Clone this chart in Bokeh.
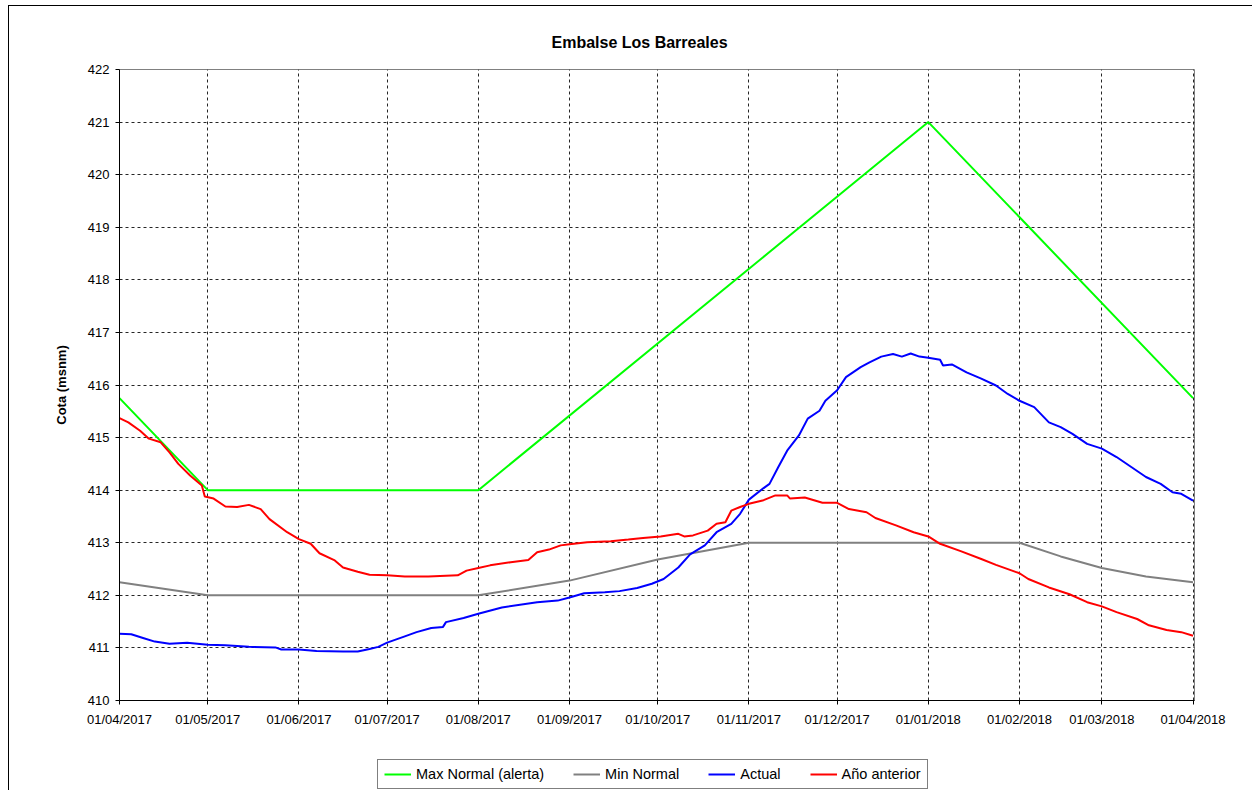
import pandas as pd
from bokeh.plotting import figure
from bokeh.layouts import column
from bokeh.models import (ColumnDataSource, Range1d, MonthsTicker, DatetimeTickFormatter,
                          SingleIntervalTicker, Legend, LegendItem)
from bokeh.embed import file_html
from bokeh.resources import INLINE

# ---------------- data ----------------
max_dates = ["2017-04-01", "2017-05-01", "2017-08-01", "2018-01-01", "2018-04-01"]
max_vals = [415.75, 414.0, 414.0, 421.0, 415.75]

min_dates = ["2017-04-01", "2017-05-01", "2017-08-01", "2017-09-01", "2017-10-01",
             "2017-11-01", "2018-02-01", "2018-02-15", "2018-03-01", "2018-03-16",
             "2018-04-01"]
min_vals = [412.25, 412.0, 412.0, 412.28, 412.68, 413.0, 413.0, 412.74, 412.52,
            412.36, 412.25]

act_dates = ["2017-04-01", "2017-04-05", "2017-04-09", "2017-04-13", "2017-04-18",
             "2017-04-24", "2017-05-01", "2017-05-07", "2017-05-15", "2017-05-24",
             "2017-05-26", "2017-06-01", "2017-06-07", "2017-06-16", "2017-06-21",
             "2017-06-25", "2017-06-28", "2017-07-01", "2017-07-07", "2017-07-11",
             "2017-07-16", "2017-07-20", "2017-07-21", "2017-07-27", "2017-08-01",
             "2017-08-09", "2017-08-21", "2017-08-28", "2017-09-01", "2017-09-06",
             "2017-09-13", "2017-09-18", "2017-09-24", "2017-09-29", "2017-10-03",
             "2017-10-08", "2017-10-12", "2017-10-17", "2017-10-21", "2017-10-26",
             "2017-10-29", "2017-11-01", "2017-11-06", "2017-11-08", "2017-11-11",
             "2017-11-14", "2017-11-18", "2017-11-21", "2017-11-25", "2017-11-27",
             "2017-12-01", "2017-12-04", "2017-12-09", "2017-12-12", "2017-12-16",
             "2017-12-20", "2017-12-23", "2017-12-26", "2017-12-29", "2018-01-01",
             "2018-01-05", "2018-01-06", "2018-01-09", "2018-01-14", "2018-01-19",
             "2018-01-24", "2018-01-28", "2018-02-01", "2018-02-06", "2018-02-11",
             "2018-02-15", "2018-02-19", "2018-02-24", "2018-03-01", "2018-03-06",
             "2018-03-11", "2018-03-16", "2018-03-21", "2018-03-25", "2018-03-28",
             "2018-04-01"]
act_vals = [411.27, 411.26, 411.19, 411.12, 411.08, 411.10, 411.06, 411.05, 411.02,
            411.01, 410.97, 410.97, 410.94, 410.93, 410.93, 410.98, 411.02, 411.10,
            411.22, 411.30, 411.38, 411.40, 411.49, 411.57, 411.65, 411.77, 411.87,
            411.90, 411.96, 412.04, 412.06, 412.08, 412.14, 412.22, 412.31, 412.53,
            412.78, 412.95, 413.20, 413.36, 413.55, 413.82, 414.04, 414.12, 414.44,
            414.75, 415.04, 415.36, 415.51, 415.70, 415.90, 416.15, 416.34, 416.43,
            416.54, 416.59, 416.54, 416.60, 416.54, 416.52, 416.48, 416.37, 416.39,
            416.24, 416.12, 415.99, 415.83, 415.70, 415.58, 415.29, 415.20, 415.07,
            414.88, 414.79, 414.63, 414.44, 414.25, 414.12, 413.96, 413.93, 413.80]

prev_dates = ["2017-04-01", "2017-04-04", "2017-04-08", "2017-04-11", "2017-04-15",
              "2017-04-18", "2017-04-21", "2017-04-25", "2017-04-29", "2017-04-30",
              "2017-05-03", "2017-05-07", "2017-05-11", "2017-05-15", "2017-05-19",
              "2017-05-22", "2017-05-28", "2017-06-01", "2017-06-05", "2017-06-08",
              "2017-06-13", "2017-06-16", "2017-06-21", "2017-06-25", "2017-07-01",
              "2017-07-07", "2017-07-15", "2017-07-25", "2017-07-28", "2017-08-01",
              "2017-08-05", "2017-08-12", "2017-08-18", "2017-08-21", "2017-08-25",
              "2017-08-29", "2017-09-01", "2017-09-07", "2017-09-15", "2017-09-21",
              "2017-09-26", "2017-10-02", "2017-10-08", "2017-10-10", "2017-10-13",
              "2017-10-18", "2017-10-21", "2017-10-24", "2017-10-26", "2017-10-29",
              "2017-11-01", "2017-11-06", "2017-11-10", "2017-11-14", "2017-11-15",
              "2017-11-20", "2017-11-26", "2017-12-01", "2017-12-05", "2017-12-11",
              "2017-12-14", "2017-12-21", "2017-12-27", "2018-01-01", "2018-01-05",
              "2018-01-12", "2018-01-19", "2018-01-24", "2018-02-01", "2018-02-04",
              "2018-02-11", "2018-02-18", "2018-02-24", "2018-03-01", "2018-03-06",
              "2018-03-13", "2018-03-17", "2018-03-23", "2018-03-28", "2018-04-01"]
prev_vals = [415.37, 415.29, 415.13, 414.98, 414.91, 414.72, 414.50, 414.28, 414.09,
             413.88, 413.84, 413.69, 413.68, 413.72, 413.64, 413.45, 413.20, 413.07,
             412.98, 412.80, 412.67, 412.53, 412.45, 412.39, 412.38, 412.36, 412.36,
             412.38, 412.47, 412.52, 412.57, 412.63, 412.67, 412.82, 412.87, 412.95,
             412.97, 413.01, 413.03, 413.06, 413.09, 413.12, 413.17, 413.12, 413.14,
             413.23, 413.36, 413.39, 413.61, 413.68, 413.74, 413.81, 413.90, 413.90,
             413.84, 413.86, 413.76, 413.76, 413.64, 413.58, 413.47, 413.33, 413.20,
             413.12, 412.98, 412.84, 412.69, 412.58, 412.42, 412.31, 412.15, 412.02,
             411.87, 411.79, 411.68, 411.55, 411.43, 411.34, 411.30, 411.23]

series_names = ["Max Normal (alerta)", "Min Normal", "Actual", "Año anterior"]
series_colors = ["#00FF00", "#808080", "#0000FF", "#FF0000"]
title_text = "Embalse Los Barreales"
y_label = "Cota (msnm)"
x_start, x_end = "2017-04-01", "2018-04-01 12:00"
y_start, y_end = 410, 422

FONT = "Liberation Sans"
W = 1243

all_x = [max_dates, min_dates, act_dates, prev_dates]
all_y = [max_vals, min_vals, act_vals, prev_vals]
sources = [ColumnDataSource(dict(x=pd.to_datetime(xs), y=ys)) for xs, ys in zip(all_x, all_y)]

# ---------------- main figure ----------------
xr = Range1d(pd.Timestamp(x_start), pd.Timestamp(x_end))
p = figure(width=W, height=749, x_axis_type="datetime",
           x_range=xr, y_range=Range1d(y_start, y_end),
           output_backend="svg", toolbar_location=None,
           min_border_left=110, min_border_right=58, min_border_top=63,
           min_border_bottom=55)

p.title.text = title_text
p.title.align = "left"
p.title.offset = 432
p.title.standoff = 37
p.title.text_font = FONT
p.title.text_font_size = "16px"
p.title.text_font_style = "bold"
p.title.text_color = "black"

p.outline_line_color = "#808080"
p.outline_line_width = 1

for src, c in zip(sources, series_colors):
    p.line("x", "y", source=src, line_color=c, line_width=2)

# axes
p.xaxis.ticker = MonthsTicker(months=list(range(12)))
fmt = "%d/%m/%Y"
p.xaxis.formatter = DatetimeTickFormatter(days=fmt, months=fmt, years=fmt,
                                          hours=fmt, minutes=fmt, seconds=fmt,
                                          milliseconds=fmt, microseconds=fmt)
p.yaxis.ticker = SingleIntervalTicker(interval=1)
for ax in (p.xaxis[0], p.yaxis[0]):
    ax.axis_line_color = "black"
    ax.axis_line_width = 1
    ax.major_tick_line_color = "black"
    ax.major_tick_in = 0
    ax.minor_tick_line_color = None
    ax.major_label_text_font = FONT
    ax.major_label_text_font_size = "13px"
    ax.major_label_text_color = "black"
p.xaxis.major_tick_out = 4
p.yaxis.major_tick_out = 4
p.xaxis.major_label_standoff = 7
p.yaxis.major_label_standoff = 6
p.yaxis.axis_label = y_label
p.yaxis.axis_label_text_font = FONT
p.yaxis.axis_label_text_font_size = "13px"
p.yaxis.axis_label_text_font_style = "bold"
p.yaxis.axis_label_text_color = "black"
p.yaxis.axis_label_standoff = 16

# grid
for g in (p.xgrid[0], p.ygrid[0]):
    g.grid_line_color = "black"
    g.grid_line_dash = "3 3"
    g.grid_line_width = 1
    g.grid_line_alpha = 0.85

# ---------------- legend strip ----------------
# same series drawn in a strip whose y range excludes them, only for the legend keys
lf = figure(width=W, height=35, x_axis_type="datetime", x_range=xr,
            y_range=Range1d(0, 1), output_backend="svg", toolbar_location=None,
            x_axis_location=None, y_axis_location=None, min_border=0)
lf.outline_line_color = None
lf.xgrid.visible = False
lf.ygrid.visible = False
items = []
for n, src, c in zip(series_names, sources, series_colors):
    r = lf.line("x", "y", source=src, line_color=c, line_width=2)
    items.append(LegendItem(label=n, renderers=[r]))
legend = Legend(items=items, orientation="horizontal", location=(258, 1))
legend.label_text_font = FONT
legend.label_text_font_size = "14.5px"
legend.label_text_color = "black"
legend.glyph_width = 27
legend.glyph_height = 14
legend.label_height = 14
legend.label_standoff = 5
legend.spacing = 29
legend.padding = 6
legend.margin = 0
legend.border_line_color = "black"
legend.border_line_width = 1
legend.background_fill_color = "white"
legend.background_fill_alpha = 1
lf.add_layout(legend, "center")

layout = column(p, lf, spacing=0)
layout.margin = (5, 0, 0, 8)
layout.styles = {"border-left": "1px solid black", "border-top": "1px solid black"}

open("out.html", "w").write(file_html(layout, INLINE))
